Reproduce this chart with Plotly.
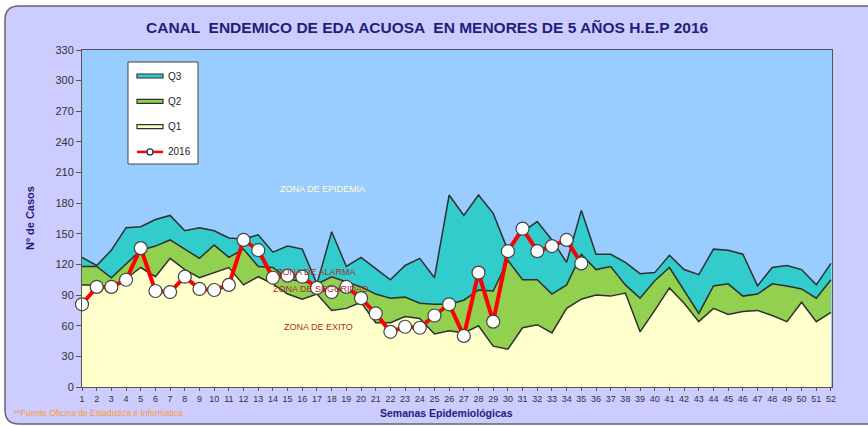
import plotly.graph_objects as go

weeks = [1, 2, 3, 4, 5, 6, 7, 8, 9, 10, 11, 12, 13, 14, 15, 16, 17, 18, 19, 20, 21, 22, 23, 24, 25, 26,
         27, 28, 29, 30, 31, 32, 33, 34, 35, 36, 37, 38, 39, 40, 41, 42, 43, 44, 45, 46, 47, 48, 49, 50, 51, 52]

q1 = [100, 100, 97, 106, 117, 108, 126, 115, 107, 112, 117, 100, 108,
      101, 91, 86, 91, 75, 77, 83, 63, 63, 69, 67, 52, 55,
      53, 60, 40, 37, 58, 61, 53, 77, 86, 90, 89, 92, 54,
      75, 97, 82, 64, 77, 71, 74, 75, 70, 64, 83, 64, 73]

q2 = [118, 118, 107, 121, 134, 138, 144, 135, 126, 139, 127, 135, 118,
      117, 106, 103, 101, 108, 103, 98, 91, 87, 88, 82, 81, 81,
      85, 95, 94, 124, 105, 105, 91, 100, 130, 115, 118, 100, 87,
      104, 117, 95, 72, 99, 101, 89, 91, 101, 99, 96, 87, 105]

q3 = [127, 119, 134, 156, 157, 164, 168, 153, 156, 153, 146, 145, 149,
      132, 138, 135, 101, 152, 118, 127, 116, 105, 119, 126, 107, 188,
      168, 188, 170, 134, 152, 162, 144, 122, 173, 130, 130, 122, 111,
      112, 129, 115, 110, 135, 134, 130, 99, 117, 119, 115, 100, 121]

cases_2016 = [81, 98, 98, 105, 136, 94, 93, 108, 96, 95, 100, 144, 134,
              107, 109, 108, 97, 93, 98, 87, 72, 54, 59, 58, 70, 81,
              50, 112, 64, 133, 155, 133, 138, 144, 121]

y_ticks = [0, 30, 60, 90, 120, 150, 180, 210, 240, 270, 300, 330]

zones = ["ZONA DE EPIDEMIA", "ZONA DE ALARMA", "ZONA DE SEGURIDAD", "ZONA DE EXITO"]
legend_names = ["Q3", "Q2", "Q1", "2016"]

TITLE = "CANAL  ENDEMICO DE EDA ACUOSA  EN MENORES DE 5 AÑOS H.E.P 2016"
NAVY = "#1F1F7A"
OUTLINE = "#2f2f2f"
FILLS = {"Q1": "#FFFFCC", "Q2": "#92D050", "Q3": "#33CCCC"}

# plot area in pixels
L, R, T, B = 82, 832, 50, 387
W, H = 868, 426


def px(x):
    return (x - L) / (R - L)


def py(y):
    return (B - y) / (B - T)


fig = go.Figure()

fig.add_trace(go.Scatter(
    x=weeks, y=q1, name="Q1", mode="lines", fill="tozeroy",
    fillcolor=FILLS["Q1"], line=dict(color=OUTLINE, width=1.5), hoverinfo="skip"))
fig.add_trace(go.Scatter(
    x=weeks, y=q2, name="Q2", mode="lines", fill="tonexty",
    fillcolor=FILLS["Q2"], line=dict(color=OUTLINE, width=1.5), hoverinfo="skip"))
fig.add_trace(go.Scatter(
    x=weeks, y=q3, name="Q3", mode="lines", fill="tonexty",
    fillcolor=FILLS["Q3"], line=dict(color=OUTLINE, width=1.5), hoverinfo="skip"))
fig.add_trace(go.Scatter(
    x=weeks[:len(cases_2016)], y=cases_2016, name="2016", mode="lines+markers",
    line=dict(color="#FF0000", width=4),
    marker=dict(size=13, color="white", line=dict(color="#444444", width=1.2)),
    cliponaxis=False))

# zone labels
zone_pos = [(17.4, 194, "#FFFFCC"), (17.0, 113, "#A03030"), (17.3, 96, "#A03030"), (17.1, 59, "#A03030")]
for txt, (zx, zy, zc) in zip(zones, zone_pos):
    fig.add_annotation(x=zx, y=zy, text=txt, showarrow=False, xanchor="center", yanchor="middle",
                       font=dict(size=9, color=zc, family="Liberation Sans"))

# titles
fig.add_annotation(xref="paper", yref="paper", x=px(427), y=py(28), text="<b>" + TITLE + "</b>",
                   xanchor="center", yanchor="middle",
                   showarrow=False, font=dict(size=15.5, color=NAVY, family="Liberation Sans"))
fig.add_annotation(xref="paper", yref="paper", x=px(30), y=py(218), text="<b>Nº de Casos</b>",
                   xanchor="center", yanchor="middle",
                   textangle=-90, showarrow=False, font=dict(size=11, color=NAVY, family="Liberation Sans"))
fig.add_annotation(xref="paper", yref="paper", x=px(446), y=py(413), text="<b>Semanas Epidemiológicas</b>",
                   xanchor="center", yanchor="middle",
                   showarrow=False, font=dict(size=10.5, color=NAVY, family="Liberation Sans"))
fig.add_annotation(xref="paper", yref="paper", x=px(12), y=py(413), xanchor="left", yanchor="middle",
                   text="**Fuente Oficina de Estadistica e Informatica",
                   showarrow=False, font=dict(size=8.5, color="#FF9933", family="Liberation Sans"))

# legend drawn as shapes (outlined boxes like the reference)
fig.add_shape(type="rect", xref="paper", yref="paper",
              x0=px(128), x1=px(198), y0=py(164), y1=py(62),
              fillcolor="white", line=dict(color="#444444", width=1), layer="above")
for i, name in enumerate(legend_names):
    yc = 76 + i * 25.3
    if name in FILLS:
        fig.add_shape(type="rect", xref="paper", yref="paper",
                      x0=px(137), x1=px(163), y0=py(yc + 2), y1=py(yc - 2),
                      fillcolor=FILLS[name], line=dict(color=OUTLINE, width=1.2), layer="above")
    else:
        fig.add_shape(type="line", xref="paper", yref="paper",
                      x0=px(137), x1=px(163), y0=py(yc), y1=py(yc),
                      line=dict(color="#FF0000", width=2.5), layer="above")
        fig.add_shape(type="circle", xref="paper", yref="paper",
                      x0=px(147), x1=px(153), y0=py(yc + 3), y1=py(yc - 3),
                      fillcolor="white", line=dict(color="#333333", width=1.3), layer="above")
    fig.add_annotation(xref="paper", yref="paper", x=px(166), y=py(yc), text=name,
                       xanchor="left", yanchor="middle", showarrow=False,
                       font=dict(size=10, color="#222222", family="Liberation Sans"))

# frame: white outside rounded rectangle + outline
def P(x, y):
    return f"{px(x):.5f},{py(y):.5f}"

r = 14
lft, top, rgt, bot = 5, 6, 885, 424
inner = (f"M {P(lft, top + r)} Q {P(lft, top)} {P(lft + r, top)} L {P(rgt, top)} L {P(rgt, bot)} "
         f"L {P(lft + r, bot)} Q {P(lft, bot)} {P(lft, bot - r)} Z")
outer = f"M {P(-5, -5)} L {P(W + 5, -5)} L {P(W + 5, H + 5)} L {P(-5, H + 5)} Z"
fig.add_shape(type="path", xref="paper", yref="paper", path=outer + " " + inner,
              fillcolor="white", fillrule="evenodd", line=dict(width=0), layer="above")
outline = (f"M {P(rgt, top)} L {P(lft + r, top)} Q {P(lft, top)} {P(lft, top + r)} "
           f"L {P(lft, bot - r)} Q {P(lft, bot)} {P(lft + r, bot)} L {P(rgt, bot)}")
fig.add_shape(type="path", xref="paper", yref="paper", path=outline,
              line=dict(color="#666666", width=1.5), layer="above")

fig.update_layout(
    width=W, height=H,
    margin=dict(l=L, r=W - R, t=T, b=H - B),
    paper_bgcolor="#CCCCFF",
    plot_bgcolor="#99CCFF",
    font=dict(family="Liberation Sans", color="#333333"),
    showlegend=False,
    xaxis=dict(range=[1, 52.07], tickmode="array", tickvals=weeks,
               ticktext=[str(w) for w in weeks], tickfont=dict(size=9, color="#333333"),
               ticks="outside", ticklen=3, tickcolor="#555555", showgrid=False,
               showline=True, linecolor="#555555", linewidth=1, mirror=True, zeroline=False),
    yaxis=dict(range=[0, 330], tickmode="array", tickvals=y_ticks,
               tickfont=dict(size=11, color="#333333"),
               ticks="outside", ticklen=5, tickcolor="#555555", showgrid=False,
               showline=True, linecolor="#555555", linewidth=1, mirror=True, zeroline=False),
)

fig.write_html("out.html", config={"displayModeBar": False},
               post_script="document.body.style.margin='0';document.body.style.overflow='hidden';")
